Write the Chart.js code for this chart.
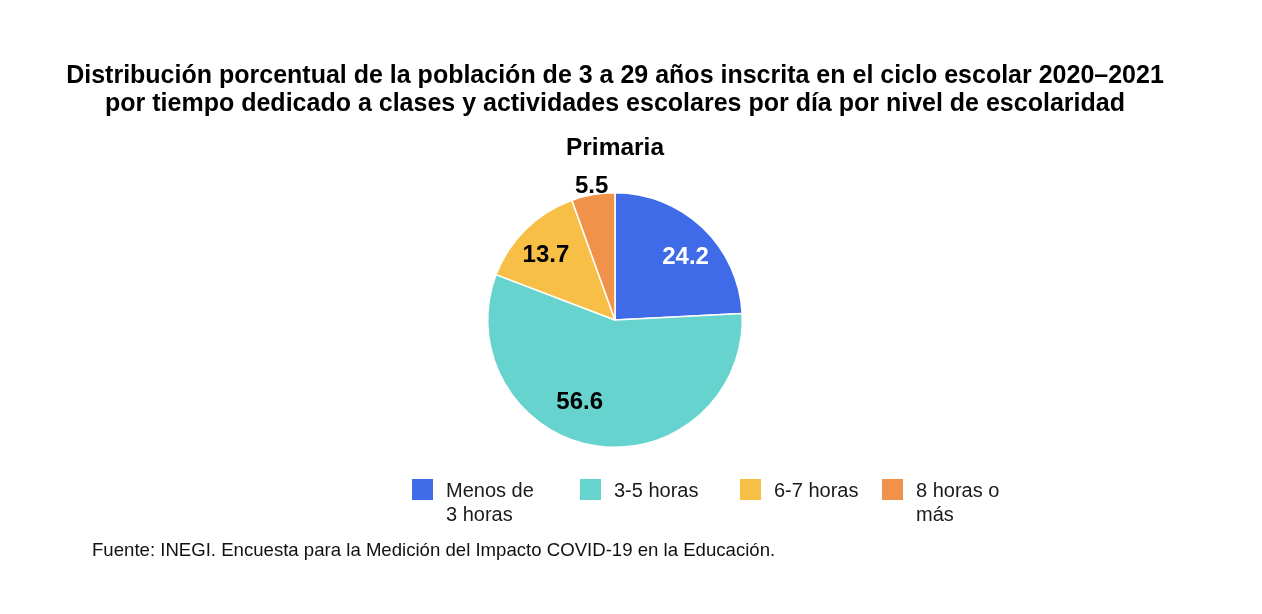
<!DOCTYPE html>
<html>
<head>
<meta charset="utf-8">
<script src="https://cdn.jsdelivr.net/npm/chart.js@4"></script>
<style>
  html, body { margin: 0; padding: 0; background: #fff; }
  #wrap { position: relative; width: 1262px; height: 614px; }
  #fuente {
    position: absolute; left: 92px; top: 539px;
    font-family: "Liberation Sans", Arial, sans-serif; font-size: 18.6px; color: #111;
  }
  #leyenda {
    position: absolute; left: 412px; top: 478px;
    display: flex;
    font-family: "Liberation Sans", Arial, sans-serif; font-size: 20px; line-height: 24px; color: #1a1a1a;
  }
  #leyenda .item { display: flex; align-items: flex-start; flex: none; }
  #leyenda .caja { width: 21px; height: 21px; margin-top: 1px; margin-right: 13px; flex: none; }
  #leyenda .txt { max-width: 96px; }
</style>
</head>
<body>
<div id="wrap">
  <canvas id="chart" width="1262" height="614"></canvas>
  <div id="leyenda"></div>
  <div id="fuente">Fuente: INEGI. Encuesta para la Medición del Impacto COVID-19 en la Educación.</div>
</div>
<script>
// Datos: Primaria, porcentaje por tiempo dedicado a clases
const categorias = ['Menos de 3 horas', '3-5 horas', '6-7 horas', '8 horas o más'];
const valores = [24.2, 56.6, 13.7, 5.5];
const colores = ['#3F6BE8', '#66D3CF', '#F7BF45', '#F1924A'];
const coloresEtiqueta = ['#ffffff', '#000000', '#000000', '#000000'];
// posición de cada etiqueta: factor radial y desplazamiento angular (grados)
const radioEtiqueta = [0.744, 0.696, 0.748, 1.07];
const giroEtiqueta = [4.6, 14.5, -2, 0];
// ancho de cada columna de la leyenda
const anchoLeyenda = [168, 160, 142, 120];

const FONT = '"Liberation Sans", Arial, sans-serif';

// Etiquetas de valor sobre cada rebanada
const etiquetasPlugin = {
  id: 'etiquetas',
  afterDatasetsDraw(chart) {
    const ctx = chart.ctx;
    const meta = chart.getDatasetMeta(0);
    ctx.save();
    ctx.font = 'bold 24px ' + FONT;
    ctx.textAlign = 'center';
    ctx.textBaseline = 'middle';
    meta.data.forEach((arc, i) => {
      const p = arc.getProps(['x', 'y', 'startAngle', 'endAngle', 'outerRadius'], true);
      const mid = (p.startAngle + p.endAngle) / 2 + giroEtiqueta[i] * Math.PI / 180;
      const r = p.outerRadius * radioEtiqueta[i];
      ctx.fillStyle = coloresEtiqueta[i];
      ctx.fillText(valores[i].toFixed(1), p.x + Math.cos(mid) * r, p.y + Math.sin(mid) * r + 1);
    });
    ctx.restore();
  }
};

new Chart(document.getElementById('chart'), {
  type: 'pie',
  data: {
    labels: categorias,
    datasets: [{
      data: valores,
      backgroundColor: colores,
      borderColor: '#ffffff',
      borderWidth: 1.5
    }]
  },
  options: {
    responsive: false,
    animation: false,
    layout: { padding: { top: 0, bottom: 166, left: 0, right: 32 } },
    plugins: {
      title: {
        display: true,
        text: [
          'Distribución porcentual de la población de 3 a 29 años inscrita en el ciclo escolar 2020–2021',
          'por tiempo dedicado a clases y actividades escolares por día por nivel de escolaridad'
        ],
        color: '#000',
        font: { family: FONT, size: 25, weight: 'bold', lineHeight: 1.12 },
        padding: { top: 62, bottom: 16 }
      },
      subtitle: {
        display: true,
        text: 'Primaria',
        color: '#000',
        font: { family: FONT, size: 24.5, weight: 'bold', lineHeight: 1.2 },
        padding: { top: 0, bottom: 28.5 }
      },
      legend: { display: false },
      tooltip: { enabled: false }
    }
  },
  plugins: [etiquetasPlugin]
});

// Leyenda HTML (los textos se ajustan en dos líneas como en el original)
const leyenda = document.getElementById('leyenda');
categorias.forEach((c, i) => {
  const item = document.createElement('div');
  item.className = 'item';
  item.style.width = anchoLeyenda[i] + 'px';
  const caja = document.createElement('div');
  caja.className = 'caja';
  caja.style.background = colores[i];
  const txt = document.createElement('div');
  txt.className = 'txt';
  txt.textContent = c;
  item.appendChild(caja);
  item.appendChild(txt);
  leyenda.appendChild(item);
});
</script>
</body>
</html>
